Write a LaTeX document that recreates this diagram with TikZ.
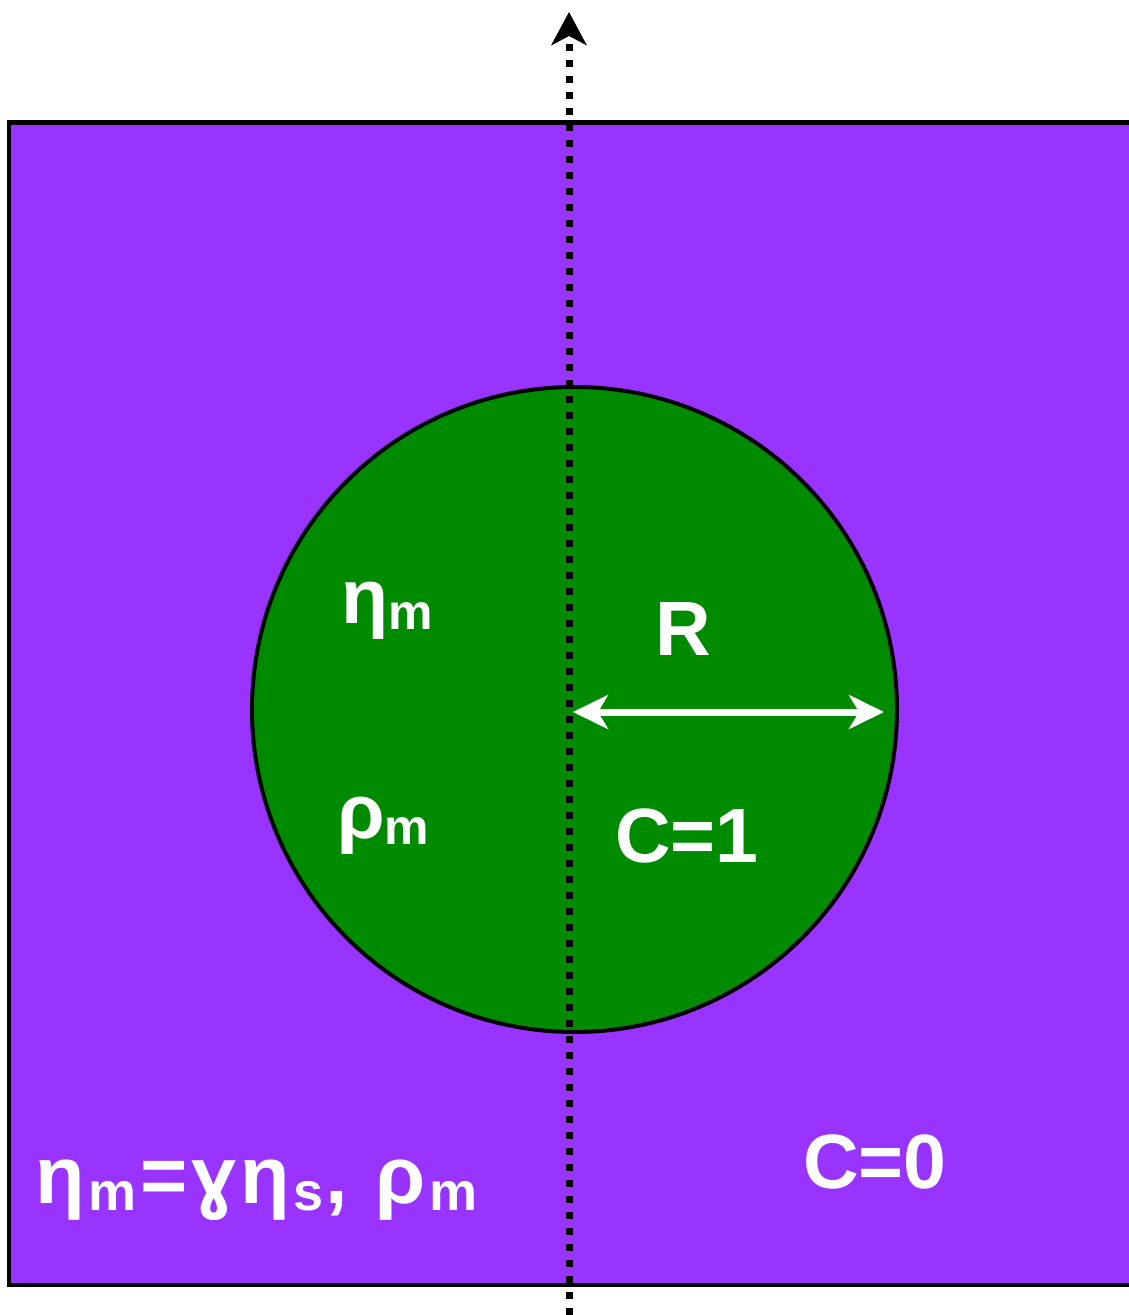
\documentclass[tikz,border=0pt]{standalone}
\usepackage{fontspec}
\setmainfont{Liberation Sans}
\usetikzlibrary{arrows.meta}
\definecolor{bgpurple}{HTML}{9933FF}
\definecolor{dropgreen}{HTML}{008A00}
\tikzset{
  lbl/.style={text=white, font=\bfseries, inner sep=0pt, anchor=base west},
  axisline/.style={line width=7pt, dash pattern=on 7pt off 9pt, -{Stealth[length=33pt, width=35pt, inset=9pt]}},
  radarrow/.style={white, line width=7pt, {Stealth[length=35pt, width=34pt, inset=10pt]}-{Stealth[length=35pt, width=34pt, inset=10pt]}},
}
\newcommand{\bigtxt}[1]{{\fontsize{77}{80}\selectfont #1}}
\newcommand{\subm}[1]{\raisebox{-6pt}{\fontsize{50}{52}\selectfont #1}}
\newcommand{\bgt}[1]{{\fontsize{81}{84}\selectfont #1}}
\newcommand{\bsub}[1]{\raisebox{-7pt}{\fontsize{54}{56}\selectfont #1}}
\begin{document}
\begin{tikzpicture}[x=1pt, y=-1pt]
\useasboundingbox (0,0) rectangle (1129,1315);
\clip (0,0) rectangle (1129,1315);
% domain
\draw[line width=4.5pt, fill=bgpurple] (9,122.5) rectangle (1140,1285);
% drop
\node[circle, draw=black, line width=4pt, fill=dropgreen, minimum size=645pt, inner sep=0pt] (c) at (574.5,709.5) {};
% axis
\coordinate (bot) at (569,1315);
\coordinate (top) at (569,12);
\draw[axisline] (bot) -- (top);
% radius arrow
\coordinate (rl) at (573,712);
\coordinate (rr) at (884,712);
\draw[radarrow] (rl) -- (rr);
% labels
\node[lbl] (eta) at (341,623) {\bigtxt{η}\subm{m}};
\node[lbl] (rho) at (337,838) {\bigtxt{ρ}\subm{m}};
\node[lbl] (R) at (655,655) {\bigtxt{R}};
\node[lbl] (c1) at (615,862) {\bigtxt{C=1}};
\node[lbl] (c0) at (803,1188) {\bigtxt{C=0}};
\node[lbl] (outer) at (35,1203) {\bgt{η}\hspace{4pt}\bsub{m}\hspace{4pt}\bgt{=}\hspace{4pt}\bgt{ɣ}\hspace{4pt}\bgt{η}\hspace{3pt}\bsub{s}\hspace{2pt}\bgt{,}\hspace{27pt}\bgt{ρ}\hspace{4pt}\bsub{m}};
\end{tikzpicture}
\end{document}
